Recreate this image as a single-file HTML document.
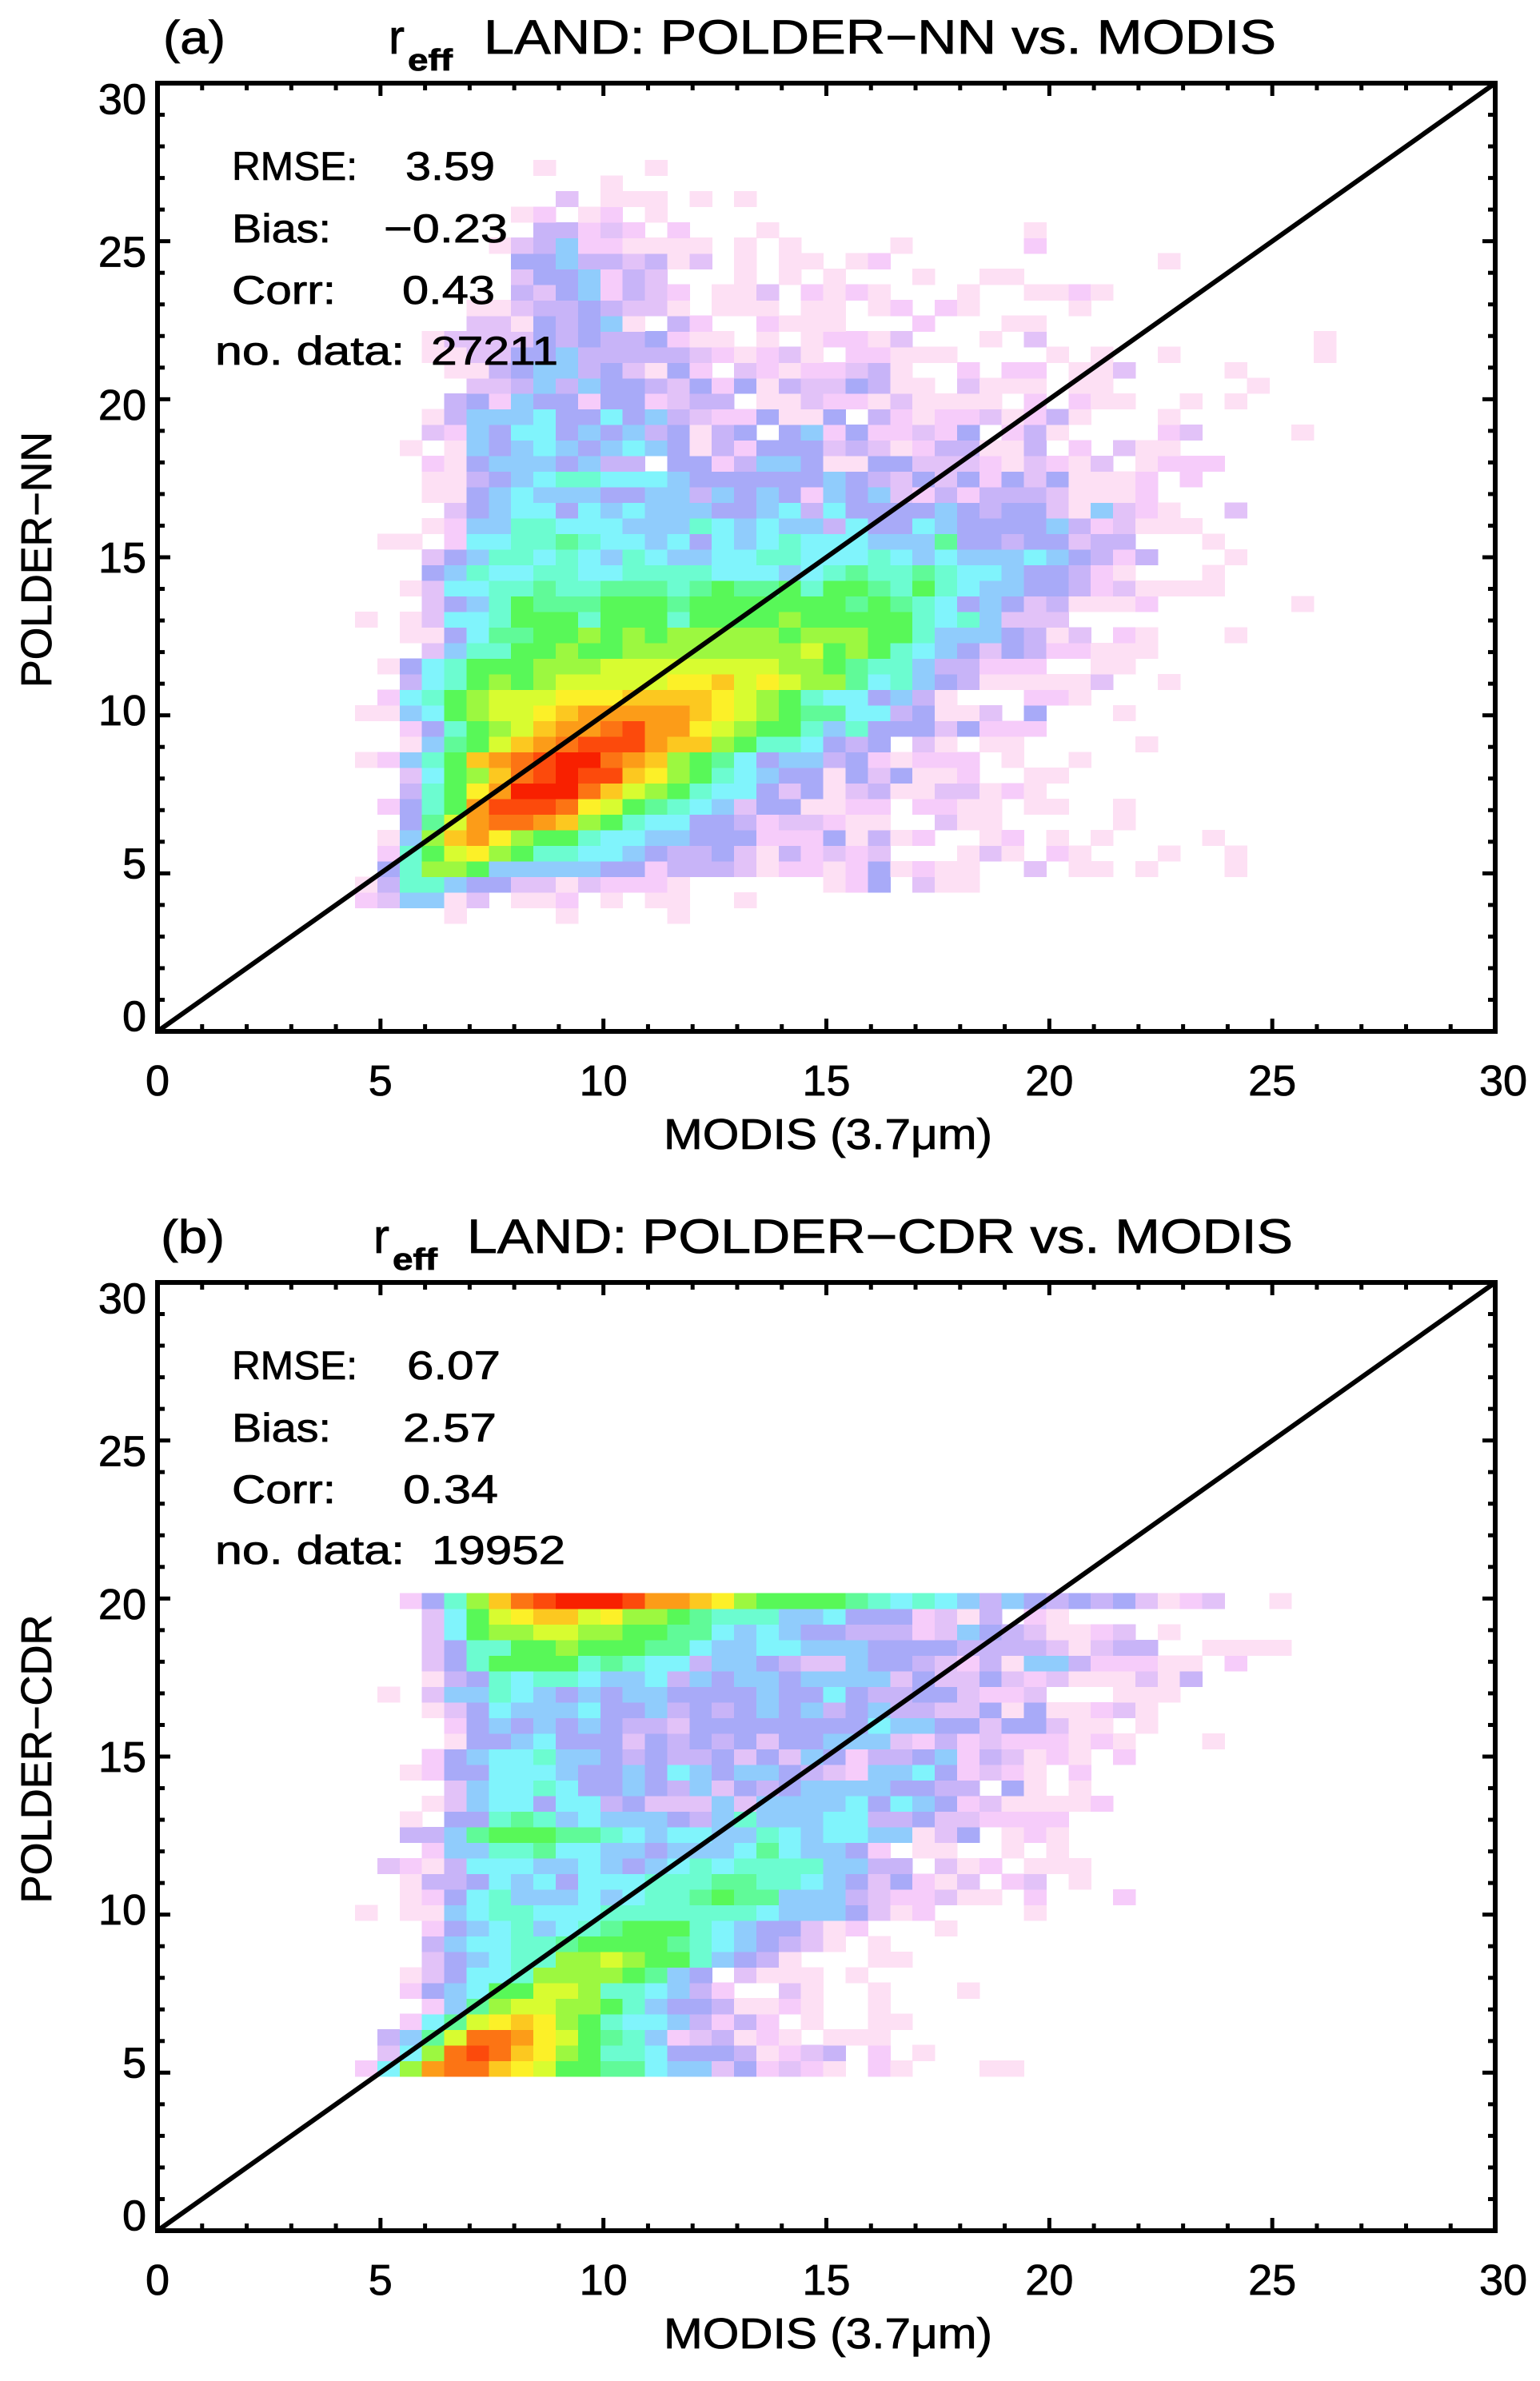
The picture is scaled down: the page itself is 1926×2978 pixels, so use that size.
<!DOCTYPE html>
<html><head><meta charset="utf-8"><title>r_eff LAND: POLDER vs MODIS</title>
<style>
html,body{margin:0;padding:0;background:#fff;}
svg{display:block;font-family:"Liberation Sans","DejaVu Sans",sans-serif;}
svg text{stroke:#000;stroke-width:0.8px;}
</style></head>
<body>
<svg id="fig" xmlns="http://www.w3.org/2000/svg" width="1926" height="2978" viewBox="0 0 1926 2978">
<rect x="0" y="0" width="1926" height="2978" fill="#fff"/>
<g id="panelA">
  <text x="204" y="67" font-size="58" textLength="78" lengthAdjust="spacingAndGlyphs">(a)</text>
  <g>
    <text x="486" y="67" font-size="60">r</text>
    <text x="510" y="88" font-size="38" font-weight="bold" textLength="56" lengthAdjust="spacingAndGlyphs">eff</text>
    <text x="605" y="67" font-size="60" textLength="991" lengthAdjust="spacingAndGlyphs">LAND: POLDER−NN vs. MODIS</text>
  </g>
  <g id="cellsA"></g>
  <g id="axesA"></g>
  <g font-size="50">
    <text x="290" y="225" textLength="157" lengthAdjust="spacingAndGlyphs">RMSE:</text>
    <text x="507" y="225" textLength="112" lengthAdjust="spacingAndGlyphs">3.59</text>
    <text x="290" y="303" textLength="124" lengthAdjust="spacingAndGlyphs">Bias:</text>
    <text x="480" y="303" textLength="155" lengthAdjust="spacingAndGlyphs">−0.23</text>
    <text x="290" y="380" textLength="130" lengthAdjust="spacingAndGlyphs">Corr:</text>
    <text x="503" y="380" textLength="116" lengthAdjust="spacingAndGlyphs">0.43</text>
    <text x="269" y="456" textLength="237" lengthAdjust="spacingAndGlyphs">no. data:</text>
    <text x="539" y="456" textLength="159" lengthAdjust="spacingAndGlyphs">27211</text>
  </g>
  <text x="830" y="1437" font-size="54" textLength="411" lengthAdjust="spacingAndGlyphs">MODIS (3.7μm)</text>
  <text x="0" y="0" font-size="54" text-anchor="middle" textLength="320" lengthAdjust="spacingAndGlyphs" transform="translate(64,700) rotate(-90)">POLDER−NN</text>
</g>
<g id="panelB">
  <text x="201" y="1567" font-size="58" textLength="80" lengthAdjust="spacingAndGlyphs">(b)</text>
  <g>
    <text x="467" y="1567" font-size="60">r</text>
    <text x="491" y="1588" font-size="38" font-weight="bold" textLength="56" lengthAdjust="spacingAndGlyphs">eff</text>
    <text x="584" y="1567" font-size="60" textLength="1033" lengthAdjust="spacingAndGlyphs">LAND: POLDER−CDR vs. MODIS</text>
  </g>
  <g id="cellsB"></g>
  <g id="axesB"></g>
  <g font-size="50">
    <text x="290" y="1725" textLength="157" lengthAdjust="spacingAndGlyphs">RMSE:</text>
    <text x="509" y="1725" textLength="117" lengthAdjust="spacingAndGlyphs">6.07</text>
    <text x="290" y="1803" textLength="124" lengthAdjust="spacingAndGlyphs">Bias:</text>
    <text x="504" y="1803" textLength="117" lengthAdjust="spacingAndGlyphs">2.57</text>
    <text x="290" y="1880" textLength="130" lengthAdjust="spacingAndGlyphs">Corr:</text>
    <text x="504" y="1880" textLength="119" lengthAdjust="spacingAndGlyphs">0.34</text>
    <text x="269" y="1956" textLength="237" lengthAdjust="spacingAndGlyphs">no. data:</text>
    <text x="540" y="1956" textLength="167" lengthAdjust="spacingAndGlyphs">19952</text>
  </g>
  <text x="830" y="2937" font-size="54" textLength="411" lengthAdjust="spacingAndGlyphs">MODIS (3.7μm)</text>
  <text x="0" y="0" font-size="54" text-anchor="middle" textLength="361" lengthAdjust="spacingAndGlyphs" transform="translate(64,2200) rotate(-90)">POLDER−CDR</text>
</g>
</svg>
<script>
// ---- data ----
// tick values for both axes
const tickLabels = [0, 5, 10, 15, 20, 25, 30];
// colour-level palette: index = density level (0 = empty)
const levelCodes = "0123456789ABCDEFGHI";
const levelColors = ["none","#fde0f4","#f6ccfa","#e2c2f8","#c8b4f8","#a8aaf8","#90ccfc","#80f4fc","#6cfcd0","#60fa98","#58f858","#9cf840","#d8fc30","#fcf028","#fcc820","#fc9c18","#fc7414","#fc4a0c","#f82000"];
// bin geometry in data units
const binWidth = 0.5;
const binHeight = 0.493;
const xBinStart = 3.93;
const yBinStartA = 3.42;
const yBinStartB = 4.89;
// panel (a) density levels: rows bottom (y~3.5) to top (y~27.5), column k -> MODIS bin k
const rowsA = [
"000001000010000100",
"0236613011201011001",
"01488655331322210000001250311",
"0058BBA6666655244431221251211003011010001",
"0028ACDBA88776544531423230001310210001001",
"0016BEFDBAA87766555222514120012010100001",
"00059CFGGFEBA87755423321100311000001",
"00258AFHHHGDCA9876355112202211011001",
"00048ADFIIIGECBA8775351341133121",
"00037ABEGHIHHEDBA8765515351120011",
"01268AEFGHIIGFEBA97566452122201001",
"000169ACEFGHHHFEEBA887545031011000001",
"000258ABCEFFGHFFDCBAA86855535222",
"01167ABCCDEFFFFFEDCBA997745113050001",
"00278ABCCCDDDEEEEDCBA8775641000221",
"000478ABABCCCCCDDECDCBB978654111113001",
"001578AAABBBCCCCCCCCBBA9886442220011",
"00003688AABAABBBBBBBBCABA876535422111",
"000115799AABABABBBBBABBBAA866654130210001",
"01013778AAA8AAA8AAAABAAAAA8786333",
"00003568A999AAA9AAAAAAA9A9875653411120000001",
"00013778898899989A99A8AA98A8766554231111",
"0000568778877888877767898898776554210001",
"00003568878768766778877787676667654240001",
"0011027788987767576787776669554553440001",
"000012668877766687676647557655556423111",
"00000"+"35677"+"57676"+"66556"+"74755"+"55654"+"55316"+"321003",
"0000"+"11567"+"66655"+"66465"+"65265"+"63242"+"44431"+"112",
"0000"+"11456"+"78877"+"76555"+"55565"+"43535"+"25351"+"11202",
"0000"+"21566"+"65644"+"05524"+"66511"+"55333"+"21321"+"301222",
"0001"+"01656"+"76567"+"65142"+"55534"+"31244"+"11402"+"0311",
"0000"+"32657"+"75656"+"45145"+"05625"+"22325"+"02410"+"00023"+"00001",
"0000"+"14666"+"75575"+"64322"+"51150"+"42122"+"31241"+"0001",
"00000"+"45265"+"52552"+"34401"+"13221"+"31111"+"02021"+"100101",
"000000"+"33464"+"65543"+"52514"+"33541"+"10311"+"10110"+"000001",
"00000"+"11456"+"64531"+"52032"+"12234"+"10020"+"22011"+"300001",
"0000"+"11335"+"56444"+"44321"+"23102"+"21110"+"00010"+"10010"+"000001",
"0000"+"13333"+"54544"+"52110"+"10122"+"13000"+"10300"+"00000000001",
"000000"+"33154"+"56104"+"20021"+"11000"+"200011",
"000000"+"11344"+"54331"+"01110"+"11012"+"021"+"00001",
"00000000"+"43562"+"43201"+"13021"+"21000"+"1001121",
"00000000"+"35562"+"43000"+"10101"+"00010"+"011",
"00000000"+"55644"+"34130"+"10110"+"12000"+"0000000001",
"0000000"+"13462"+"21111"+"01010"+"0001"+"00000"+"2",
"000000000"+"44232"+"02000"+"1"+"00000000000"+"1",
"00000000"+"1201201",
"0000000000301110101",
"0000000000001",
"000000000100001"
];
// panel (b) density levels: rows bottom (y~5) to top (y~20)
const rowsB = [
"0"+"27BFGGEDCA"+"A997663523"+"2102100011",
"00"+"37BGHGEDBA"+"8875554123"+"40201",
"00"+"469CGGFDCA"+"9862341210"+"111",
"000"+"279CDEDBA8"+"7764242010"+"011",
"0000"+"269BCCBBA8"+"6554112100"+"1",
"000"+"2567AACCB8"+"8764200310"+"010001",
"000"+"135778BBBB"+"A965031110"+"1",
"0000"+"356788BBCB"+"AA86541000"+"11",
"0000"+"4677889AAAA9876543101",
"0000"+"256786789A"+"AA87655312"+"0001",
"0"+"1011678877"+"7888888876"+"6653120000"+"1",
"000"+"1257866676"+"7889A99666"+"4322311020"+"002",
"000"+"1445767577"+"7888998876"+"5352130230"+"1",
"00"+"3214777667"+"6567878888"+"6644031201"+"11",
"0000"+"2668897766"+"5666797665"+"201100101",
"000"+"4469AAA998"+"7677668767"+"7661350121",
"000"+"105589867666546866677445332222",
"0000"+"1367757745333636666757652311112",
"00000"+"36778755654635456666554405101",
"000"+"1255777655657656654326675232102",
"0000"+"25677866545445353652445624312102",
"00000"+"15567555354545355666324232221210001",
"00000"+"25656565443555555557665535531101",
"0000"+"135766675564545656456443351511231",
"0010"+"3668765656655556557544553223000111",
"0000"+"14587887667465665666635335323111314",
"0000"+"358AAAA898774665433655432416642221102",
"0000"+"3588AABAAA99766776665555444431344001111",
"0000"+"37ABBCCBBAA99767655444236543112301",
"0000"+"37ACDEECDBBA98886675552314021",
"000"+"258BEGHIIIHFFEDBAAAA9878764654545312300"+"1"
];
// one-to-one reference line endpoints (data units)
const oneToOne = [0, 30];

// ---- layout ----
const NS = "http://www.w3.org/2000/svg";
const PX0 = 197, PX1 = 1870, VMIN = 0, VMAX = 30;
function xScale(v){ return PX0 + (v - VMIN) / (VMAX - VMIN) * (PX1 - PX0); }
function makeY(bottom, top){ return function(v){ return bottom - (v - VMIN) / (VMAX - VMIN) * (bottom - top); }; }
function mk(tag, attrs, parent){
  const el = document.createElementNS(NS, tag);
  for (const k in attrs) el.setAttribute(k, attrs[k]);
  parent.appendChild(el);
  return el;
}

function drawCells(gid, rows, yStart, yScale, prefix){
  const g = document.getElementById(gid);
  rows.forEach(function(row, r){
    for (let k = 0; k < row.length; k++){
      const lvl = levelCodes.indexOf(row[k]);
      if (lvl <= 0) continue;
      const x0 = xBinStart + k * binWidth, x1 = x0 + binWidth;
      const y0 = yStart + r * binHeight, y1 = y0 + binHeight;
      const rect = mk("rect", {x: xScale(x0).toFixed(2), y: yScale(y1).toFixed(2),
        width: (xScale(x1) - xScale(x0) + 0.6).toFixed(2), height: (yScale(y0) - yScale(y1) + 0.6).toFixed(2),
        fill: levelColors[lvl], "shape-rendering": "crispEdges"}, g);
      
      
    }
  });
}

function drawAxes(gid, bottom, top, yScale, prefix){
  const g = document.getElementById(gid);
  const mid = (bottom + top) / 2;
  const diag = mk("line", {x1: xScale(oneToOne[0]), y1: yScale(oneToOne[0]), x2: xScale(oneToOne[1]), y2: yScale(oneToOne[1]),
    stroke: "#000", "stroke-width": 6}, g);
  
  
  const frame = mk("rect", {x: PX0, y: top, width: PX1 - PX0, height: bottom - top, fill: "none", stroke: "#000", "stroke-width": 6}, g);
  
  
  for (let v = VMIN; v <= VMAX; v += 1){
    const len = (v % 5 === 0) ? 16 : 9;
    const xp = xScale(v), yp = yScale(v);
    const t1 = mk("line", {x1: xp, y1: bottom, x2: xp, y2: bottom - len, stroke: "#000", "stroke-width": 5}, g);
    
    
    const t2 = mk("line", {x1: xp, y1: top, x2: xp, y2: top + len, stroke: "#000", "stroke-width": 5}, g);
    
    
    const t3 = mk("line", {x1: PX0, y1: yp, x2: PX0 + len, y2: yp, stroke: "#000", "stroke-width": 5}, g);
    
    
    const t4 = mk("line", {x1: PX1, y1: yp, x2: PX1 - len, y2: yp, stroke: "#000", "stroke-width": 5}, g);
    
    
  }
  tickLabels.forEach(function(v){
    const xl = mk("text", {x: xScale(v) + (v === VMAX ? 10 : 0), y: bottom + 80, "font-size": 54, "text-anchor": "middle"}, g);
    xl.textContent = String(v);
    
    
    const yc = mid + (yScale(v) - mid) * 0.967;
    const yl = mk("text", {x: 183, y: yc + 19, "font-size": 54, "text-anchor": "end"}, g);
    yl.textContent = String(v);
    
    
  });
}

const yA = makeY(1290, 104);
const yB = makeY(2790, 1604);
drawCells("cellsA", rowsA, yBinStartA, yA, "heatmap-a");
drawCells("cellsB", rowsB, yBinStartB, yB, "heatmap-b");
drawAxes("axesA", 1290, 104, yA, "panel-a");
drawAxes("axesB", 2790, 1604, yB, "panel-b");
</script>
</body></html>
